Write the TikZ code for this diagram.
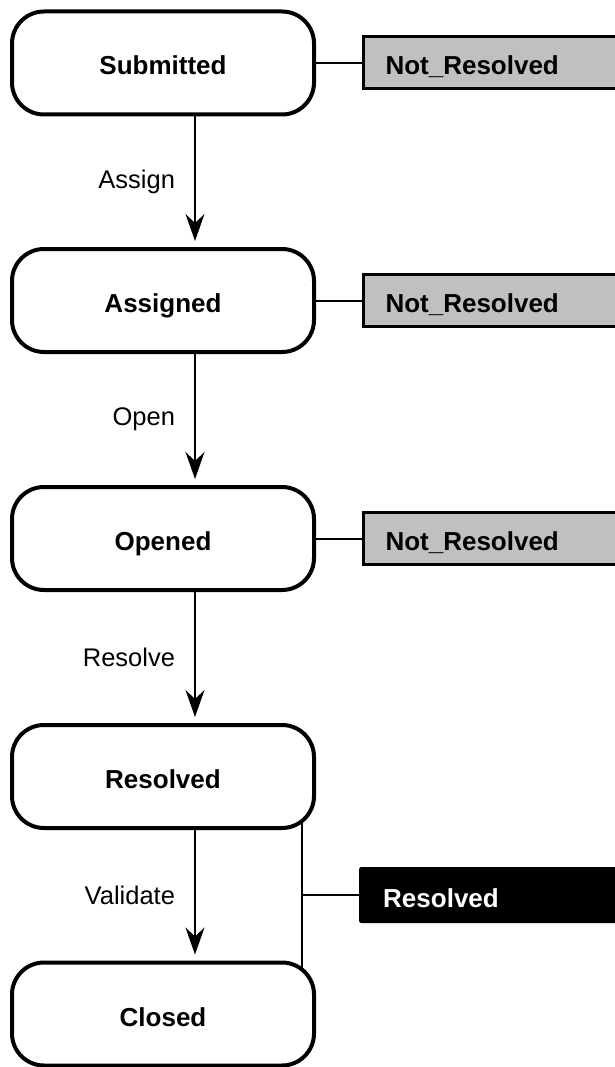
\documentclass[tikz,border=0pt]{standalone}
\usepackage{fontspec}
\setmainfont{Liberation Sans}
\usetikzlibrary{arrows.meta,backgrounds,calc}
\definecolor{tagfill}{RGB}{192,192,192}
\begin{document}
\begin{tikzpicture}[x=1pt,y=-1pt,
  boldtext/.style={font=\fontsize{26}{30}\selectfont\bfseries,
    text height=24pt, text depth=0pt},
  statebox/.style={boldtext, draw, line width=4pt, fill=white, rounded corners=32pt,
    minimum width=302pt, minimum height=103pt, inner sep=0pt},
  tagbox/.style={boldtext, draw, line width=3pt, fill=tagfill, anchor=west,
    minimum height=52pt, text width=240pt, inner xsep=22pt, inner ysep=0pt,
    align=left},
  donebox/.style={boldtext, fill=black, text=white, rounded corners=2pt, anchor=west,
    minimum height=56pt, text width=240pt, inner xsep=24pt, inner ysep=0pt,
    align=left},
  link/.style={line width=2pt},
  flow/.style={line width=2pt, -{Stealth[length=27pt,width=19pt,inset=9pt]},
    shorten >=6pt},
  lbl/.style={anchor=east, inner sep=0pt, xshift=-19pt,
    font=\fontsize{25.5}{30}\selectfont}
]
\useasboundingbox (0,0) rectangle (614,1067);

% states
\node[statebox] (sub) at (163,63)    {Submitted};
\node[statebox] (asg) at (163,300.5) {Assigned};
\node[statebox] (opn) at (163,538.5) {Opened};
\node[statebox] (res) at (163,776.5) {Resolved};
\node[statebox] (clo) at (163,1014)  {Closed};

% resolution tags
\node[tagbox] (t1) at (362,63)    {Not\_Resolved};
\node[tagbox] (t2) at (362,300.5) {Not\_Resolved};
\node[tagbox] (t3) at (362,538.5) {Not\_Resolved};
\node[donebox] (t5) at (359,895)  {Resolved};

\draw[link] (sub.east) -- (t1.west);
\draw[link] (asg.east) -- (t2.west);
\draw[link] (opn.east) -- (t3.west);

% transitions
\coordinate (ax) at (195,0);
\draw[flow] (sub.south -| ax) -- node[lbl, name=l1] {Assign}   (asg.north -| ax);
\draw[flow] (asg.south -| ax) -- node[lbl, name=l2] {Open}     (opn.north -| ax);
\draw[flow] (opn.south -| ax) -- node[lbl, name=l3] {Resolve}  (res.north -| ax);
\draw[flow] (res.south -| ax) -- node[lbl, name=l4] {Validate} (clo.north -| ax);

% bracket tying Resolved and Closed to the Resolved tag
\coordinate (j) at (302,895);
\begin{pgfonlayer}{background}
  \draw[link] ($(res.south -| j)+(0,-14)$) -- ($(clo.north -| j)+(0,14)$);
\end{pgfonlayer}
\draw[link] (j) -- (t5.west);
\end{tikzpicture}
\end{document}
